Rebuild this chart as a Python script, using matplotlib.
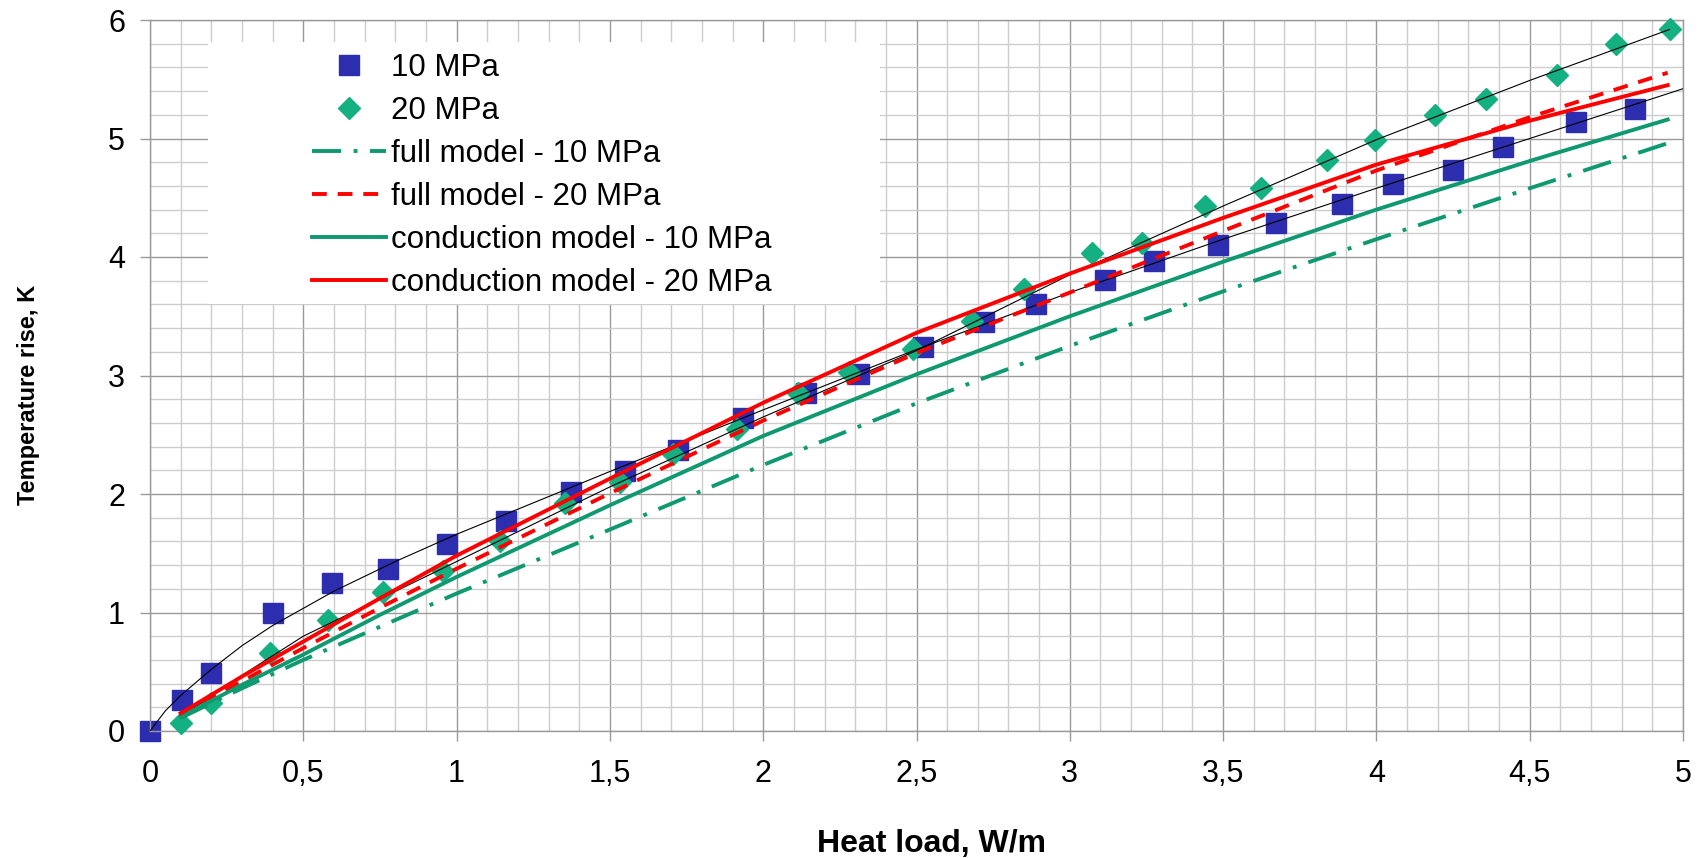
import matplotlib
matplotlib.use("Agg")
import matplotlib.pyplot as plt
from matplotlib.ticker import MultipleLocator, FuncFormatter
from matplotlib.patches import Rectangle

plt.rcParams['font.family'] = ['Liberation Sans', 'DejaVu Sans']

# measured points
q_10 = [0, 0.105, 0.20, 0.40, 0.595, 0.775, 0.97, 1.16, 1.373, 1.549, 1.723, 1.935,
        2.14, 2.313, 2.52, 2.72, 2.89, 3.116, 3.275, 3.484, 3.673, 3.889, 4.053, 4.249,
        4.414, 4.652, 4.842]
t_10 = [0, 0.26, 0.49, 1.0, 1.25, 1.37, 1.58, 1.77, 2.02, 2.19, 2.37, 2.64,
        2.85, 3.01, 3.24, 3.45, 3.60, 3.81, 3.97, 4.10, 4.29, 4.45, 4.62, 4.73,
        4.93, 5.14, 5.25]

q_20 = [0.10, 0.20, 0.39, 0.58, 0.76, 0.956, 1.141, 1.353, 1.533, 1.706, 1.916,
        2.112, 2.28, 2.487, 2.68, 2.85, 3.072, 3.237, 3.44, 3.625, 3.84, 3.995,
        4.19, 4.357, 4.59, 4.78, 4.956]
t_20 = [0.065, 0.235, 0.66, 0.94, 1.17, 1.35, 1.60, 1.92, 2.10, 2.34, 2.55,
        2.85, 3.03, 3.22, 3.46, 3.73, 4.03, 4.12, 4.43, 4.58, 4.82, 4.99,
        5.20, 5.33, 5.54, 5.80, 5.92]

# model curves
q_model = [0.1, 0.3, 0.5, 0.75, 1.0, 1.5, 2.0, 2.5, 3.0, 3.5, 4.0, 4.5, 4.95]
full_10 = [0.11, 0.36, 0.60, 0.88, 1.16, 1.70, 2.245, 2.765, 3.25, 3.71, 4.15, 4.58, 4.96]
full_20 = [0.135, 0.42, 0.70, 1.04, 1.37, 2.006, 2.62, 3.19, 3.70, 4.22, 4.73, 5.18, 5.555]
cond_10 = [0.12, 0.39, 0.645, 0.98, 1.30, 1.905, 2.49, 3.01, 3.50, 3.96, 4.40, 4.81, 5.16]
cond_20 = [0.15, 0.46, 0.755, 1.12, 1.48, 2.13, 2.77, 3.36, 3.86, 4.33, 4.78, 5.15, 5.45]

# trend lines through the measurements
trend_q_10 = [0, 0.05, 0.1, 0.2, 0.3, 0.4, 0.6, 0.8, 1.0, 1.5, 2.0, 2.5, 3.0, 3.5, 4.0, 4.5, 5.0]
trend_t_10 = [0, 0.17, 0.30, 0.52, 0.72, 0.89, 1.18, 1.43, 1.66, 2.19, 2.71, 3.22, 3.70,
              4.15, 4.58, 5.00, 5.42]
trend_q_20 = [0.1, 0.3, 0.5, 1.0, 1.5, 2.0, 2.5, 3.0, 3.5, 4.0, 4.5, 4.956]
trend_t_20 = [0.12, 0.47, 0.80, 1.43, 2.06, 2.65, 3.21, 3.85, 4.43, 4.99, 5.49, 5.92]

blue = '#2D2DAF'
teal = '#14B082'
green = '#0F9970'
red = '#FF0000'

fig = plt.figure(figsize=(17.07, 8.58), dpi=100)
ax = fig.add_axes([150 / 1707, 1 - 731 / 858, 1533 / 1707, 711 / 858])

ax.plot(trend_q_10, trend_t_10, color='black', lw=0.8, zorder=3)
ax.plot(trend_q_20, trend_t_20, color='black', lw=0.8, zorder=3)

ax.plot(q_10, t_10, 's', color=blue, ms=15, mec=blue, zorder=2.5, clip_on=False,
        label='10 MPa')
ax.plot(q_20, t_20, 'D', color=teal, ms=11, mec=teal, zorder=2.6, clip_on=False,
        label='20 MPa')

ax.plot(q_model, full_10, color=green, lw=2.8, dashes=(7.5, 3.2, 1, 3.2),
        zorder=4, label='full model - 10 MPa')
ax.plot(q_model, full_20, color=red, lw=2.8, dashes=(3.8, 2.8),
        zorder=4, label='full model - 20 MPa')
ax.plot(q_model, cond_10, color=green, lw=2.8, zorder=4, label='conduction model - 10 MPa')
ax.plot(q_model, cond_20, color=red, lw=2.8, zorder=4, label='conduction model - 20 MPa')

ax.set_xlim(0, 5)
ax.set_ylim(0, 6)
ax.xaxis.set_major_locator(MultipleLocator(0.5))
ax.xaxis.set_minor_locator(MultipleLocator(0.1))
ax.yaxis.set_major_locator(MultipleLocator(1))
ax.yaxis.set_minor_locator(MultipleLocator(0.2))
fmt = FuncFormatter(lambda v, p: ('%g' % v).replace('.', ','))
ax.xaxis.set_major_formatter(fmt)
ax.yaxis.set_major_formatter(fmt)

ax.set_axisbelow(True)
ax.grid(which='major', color='#9A9A9A', lw=1.0)
ax.grid(which='minor', color='#CDCDCD', lw=1.0)
ax.tick_params(which='major', direction='out', length=7, width=1, color='#9A9A9A',
               labelsize=22)
ax.tick_params(axis='x', pad=13.5)
ax.tick_params(axis='y', pad=11)
ax.tick_params(which='minor', length=0)
for s in ax.spines.values():
    s.set_color('#9A9A9A')
    s.set_linewidth(1.0)

# white legend area
ax.add_patch(Rectangle((0.0378, 0.6006), 0.4384, 0.3684, transform=ax.transAxes,
                       facecolor='white', edgecolor='none', zorder=1))
ax.legend(loc='upper left', bbox_to_anchor=(0.106, 0.954), frameon=False,
          fontsize=22.5, handlelength=2.35, handletextpad=0.15, labelspacing=0.42,
          borderpad=0, borderaxespad=0)

ax.set_xlabel('Heat load, W/m', fontsize=23, fontweight='bold')
ax.set_ylabel('Temperature rise, K', fontsize=17, fontweight='bold')
ax.xaxis.set_label_coords(0.51, -0.138)
ax.yaxis.set_label_coords(-0.072, 0.473)

fig.savefig('out.png', dpi=100)
